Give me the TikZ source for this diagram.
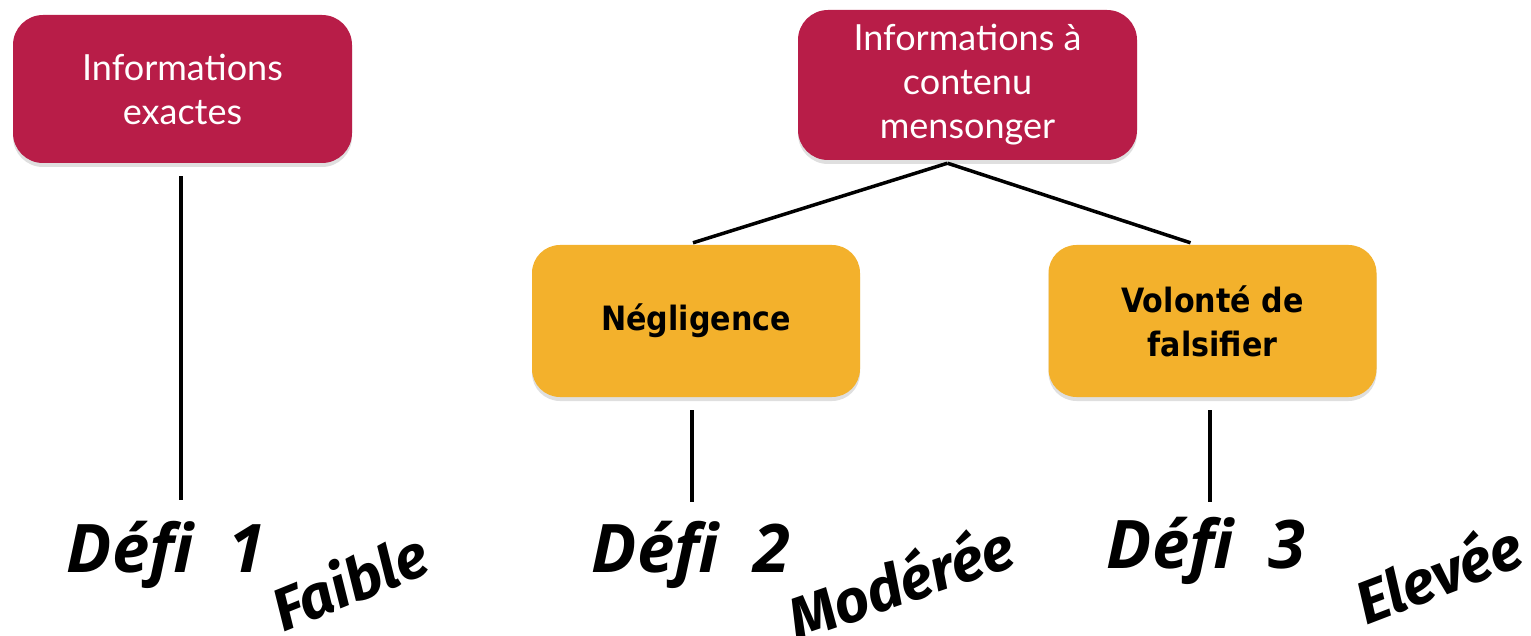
\documentclass[tikz,border=0pt]{standalone}
\usepackage{fontspec}
\setmainfont{Lato}
\newfontfamily\boxfont{DejaVu Sans Condensed}
\newfontfamily\defifont{Open Sans}
\newfontfamily\scriptf{Fira Sans}
\usetikzlibrary{shadows}
\definecolor{crimson}{RGB}{184,29,72}
\definecolor{gold}{RGB}{243,177,44}
\tikzset{
  redbox/.style={fill=crimson, rounded corners=30pt, text=white, align=center,
    font=\fontsize{36}{44}\selectfont, inner sep=0pt,
    drop shadow={opacity=0.25, shadow xshift=0pt, shadow yshift=-4pt}},
  goldbox/.style={fill=gold, rounded corners=28pt, text=black, align=center,
    font=\boxfont\bfseries\fontsize{33.5}{44}\selectfont, inner sep=0pt,
    minimum width=328pt, minimum height=152pt,
    drop shadow={opacity=0.25, shadow xshift=0pt, shadow yshift=-4pt}},
  defi/.style={font=\defifont\bfseries\itshape\fontsize{67}{70}\selectfont, anchor=base, inner sep=0pt},
  level/.style={font=\scriptf\bfseries\itshape\fontsize{60}{64}\selectfont, inner sep=0pt},
  link/.style={line width=3.5pt, black}
}
\begin{document}
\begin{tikzpicture}[x=1pt,y=-1pt]
\useasboundingbox (0,0) rectangle (1531,636);
\node[redbox, minimum width=339pt, minimum height=148pt] (b1) at (182.5,89) {Informations\\exactes};
\node[redbox, minimum width=339pt, minimum height=150pt] (b2) at (967.5,85) {Informations à\\contenu\\mensonger};
\node[goldbox] (g1) at (696,321) {Négligence};
\node[goldbox] (g2) at (1212.5,321) {Volonté de\\falsifier};
\node[defi] (d1) at (166,572) {Défi\ \ 1};
\node[defi] (d2) at (691,572) {Défi\ \ 2};
\node[defi] (d3) at (1206,568) {Défi\ \ 3};
\node[level, rotate=22] (l1) at (349,580) {Faible};
\node[level, rotate=19] (l2) at (900,580) {Modérée};
\node[level, rotate=21] (l3) at (1438,572) {Elevée};
\coordinate (apex) at ([xshift=-20pt,yshift=-3pt]b2.south);
\draw[link] ([xshift=-1.5pt,yshift=-13pt]b1.south) -- ([xshift=15pt,yshift=72pt]d1.base);
\draw[link] (apex) -- ([xshift=-3pt,yshift=2pt]g1.north);
\draw[link] (apex) -- ([xshift=-22pt,yshift=2pt]g2.north);
\draw[link] ([xshift=-4pt,yshift=-13pt]g1.south) -- ([xshift=1pt,yshift=70pt]d2.base);
\draw[link] ([xshift=-2.5pt,yshift=-13pt]g2.south) -- ([xshift=4pt,yshift=66pt]d3.base);
\end{tikzpicture}
\end{document}
